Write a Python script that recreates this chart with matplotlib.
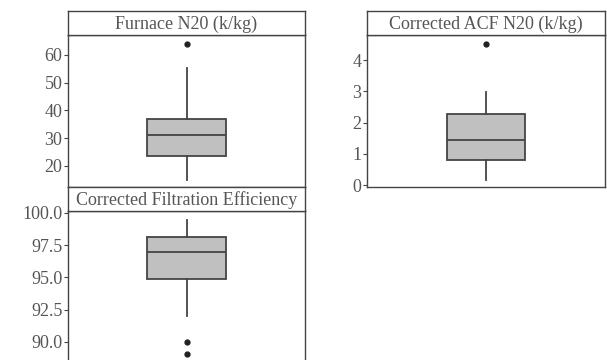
import matplotlib
matplotlib.use('Agg')
import matplotlib.pyplot as plt

# summary statistics (whisker low, q1, median, q3, whisker high)
titles = ['Furnace N20 (k/kg)', 'Corrected ACF N20 (k/kg)', 'Corrected Filtration Efficiency']
whislo = [15.0, 0.15, 92.0]
q1 = [23.6, 0.80, 94.9]
med = [31.2, 1.43, 97.0]
q3 = [37.0, 2.27, 98.15]
whishi = [55.3, 2.97, 99.45]
fliers = [[64.0], [4.5], [90.0, 89.1]]

yticks = [[20, 30, 40, 50, 60], [0, 1, 2, 3, 4], [90.0, 92.5, 95.0, 97.5, 100.0]]
ytick_fmt = ['{:.0f}', '{:.0f}', '{:.1f}']
ylims = [(12.4, 67.2), (-0.06, 4.8), (88.6, 100.15)]

text_col = '#555555'
edge_col = '#444444'
plt.rcParams['font.family'] = ['Liberation Serif', 'DejaVu Serif']

fig = plt.figure(figsize=(6.07, 3.60), dpi=100)
W, H = 607.0, 360.0

# panel positions in pixels: (left, right, strip top, plot top, plot bottom)
panels = [(68, 305, 11, 35, 187), (367, 605, 11, 35, 187), (68, 305, 187, 211, 360)]

for i, (l, r, st, pt, pb) in enumerate(panels):
    ax = fig.add_axes([l / W, (H - pb) / H, (r - l) / W, (pb - pt) / H])
    stats = [dict(whislo=whislo[i], q1=q1[i], med=med[i], q3=q3[i],
                  whishi=whishi[i], fliers=fliers[i])]
    ax.bxp(stats, positions=[0], widths=0.33, patch_artist=True,
           boxprops=dict(facecolor='#c0c0c0', edgecolor=edge_col, linewidth=1.3),
           medianprops=dict(color=edge_col, linewidth=1.3),
           whiskerprops=dict(color=edge_col, linewidth=1.3),
           capprops=dict(linewidth=0),
           flierprops=dict(marker='o', markersize=3.5, markerfacecolor='#222222',
                           markeredgecolor='#222222'))
    ax.set_xlim(-0.5, 0.5)
    ax.set_ylim(*ylims[i])
    ax.set_xticks([])
    ax.set_yticks(yticks[i])
    ax.set_yticklabels([ytick_fmt[i].format(v) for v in yticks[i]])
    ax.tick_params(axis='y', direction='out', length=3, width=0.8, colors=edge_col,
                   labelcolor=text_col, labelsize=13, pad=1)
    for s in ax.spines.values():
        s.set_color(edge_col)
        s.set_linewidth(1.0)
    if i == 2:
        ax.spines['bottom'].set_visible(False)

    # title strip
    sx = fig.add_axes([l / W, (H - pt) / H, (r - l) / W, (pt - st) / H])
    sx.set_xticks([])
    sx.set_yticks([])
    for s in sx.spines.values():
        s.set_color(edge_col)
        s.set_linewidth(1.0)
    sx.text(0.5, 0.45, titles[i], ha='center', va='center', fontsize=13,
            color=text_col, transform=sx.transAxes)

fig.savefig('out.png', dpi=100)
